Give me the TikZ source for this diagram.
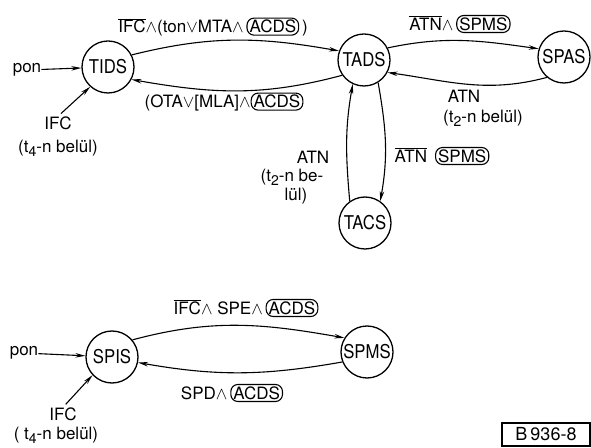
\documentclass[tikz,border=0pt]{standalone}
\usepackage{fontspec}
\setmainfont{TeX Gyre Heros}
\newfontfamily\statefont{TeX Gyre Heros}[FakeStretch=0.88]
\usetikzlibrary{arrows.meta}

% overlined signal name, index digit, and a rounded capsule round a state name
\newcommand\ovl[1]{$\overline{\mbox{#1}}$}
\newcommand\lowidx[1]{\raisebox{-0.45ex}{\fontsize{14}{14}\selectfont#1}}
\newcommand\capsl[1]{\tikz[baseline]\node[capsule,anchor=base](cap){#1};}

\tikzset{
  state/.style={circle,draw,line width=1.3pt,minimum size=52pt,inner sep=0pt,
    font=\statefont\fontsize{19}{19}\selectfont},
  lbl/.style={inner sep=0pt,font=\fontsize{17}{19}\selectfont,align=center},
  capsule/.style={draw,line width=1.1pt,rounded corners=7pt,inner xsep=2.5pt,
    inner ysep=2pt},
  trans/.style={line width=1.1pt,-{Stealth[length=10pt,width=4.5pt]}},
}

\begin{document}
\begin{tikzpicture}[x=1pt,y=1pt]
\useasboundingbox (0,0) rectangle (591,447);

% ---- upper automaton ----
\node[state] (TIDS) at (108,380) {TIDS};
\node[state] (TADS) at (364,387) {TADS};
\node[state] (SPAS) at (564,390) {SPAS};
\node[state] (TACS) at (365,224) {TACS};

\node[lbl] (pon1) at (27,377) {pon};
\node[lbl] (ifc1) at (58,324) {IFC};
\node[lbl] (t4a) at (58,299) {(t\lowidx{4}-n belül)};

\draw[trans] (pon1) -- (TIDS);
\draw[trans,shorten <=4pt] (ifc1.north) -- (TIDS.228);

\draw[trans] (TIDS.27) to[out=14,in=170] (TADS.160);
\draw[trans] (TADS.215) to[out=195,in=-10] (TIDS.-28);
\node[lbl] (l1) at (213,420) {\ovl{IFC}$\wedge$(ton$\vee$MTA$\wedge$\,\capsl{ACDS}\,)};
\node[lbl] (l2) at (224,345) {(OTA$\vee$[MLA]$\wedge$\capsl{ACDS}};

\draw[trans] (TADS.27) to[out=12,in=172] (SPAS.162);
\draw[trans] (SPAS.230) to[out=195,in=-8] (TADS.-28);
\node[lbl] (l3) at (460,423) {\ovl{ATN}$\wedge$\,\capsl{SPMS}};
\node[lbl] (l4) at (464,351) {ATN};
\node[lbl] (l5) at (483,329) {(t\lowidx{2}-n belül)};

\draw[trans] (TACS.125) to[out=95,in=-100] (TADS.245);
\draw[trans] (TADS.-58) to[out=-80,in=80] (TACS.55);
\node[lbl] (l6) at (313,290) {ATN};
\node[lbl,align=right] (l7) at (292,260) {(t\lowidx{2}-n be-\\lül)\hspace*{16pt}};
\node[lbl] (l8) at (442,291) {\ovl{ATN}\hspace{8pt}\capsl{SPMS}};

% ---- lower automaton ----
\node[state] (SPIS) at (112,90) {SPIS};
\node[state] (SPMS) at (367,95) {SPMS};

\node[lbl] (pon2) at (24,94) {pon};
\node[lbl] (ifc2) at (63,33) {IFC};
\node[lbl] (t4b) at (56,12) {( t\lowidx{4}-n belül)};

\draw[trans] (pon2) -- (SPIS);
\draw[trans,shorten <=4pt] (ifc2.north) -- (SPIS.223);

\draw[trans] (SPIS.40) to[out=15,in=170] (SPMS.148);
\draw[trans] (SPMS.202) to[out=190,in=-10] (SPIS.-12);
\node[lbl] (l9) at (246,139) {\ovl{IFC}$\wedge$ SPE$\wedge$\,\capsl{ACDS}};
\node[lbl] (l10) at (232,54) {SPD$\wedge$\,\capsl{ACDS}};

% ---- figure number ----
\node[draw,line width=1.1pt,inner xsep=3pt,inner ysep=2pt,
  font=\fontsize{18}{18}\selectfont,minimum width=88pt,minimum height=23pt]
  (fig) at (546,12.5) {B\,936-8};
\end{tikzpicture}
\end{document}
